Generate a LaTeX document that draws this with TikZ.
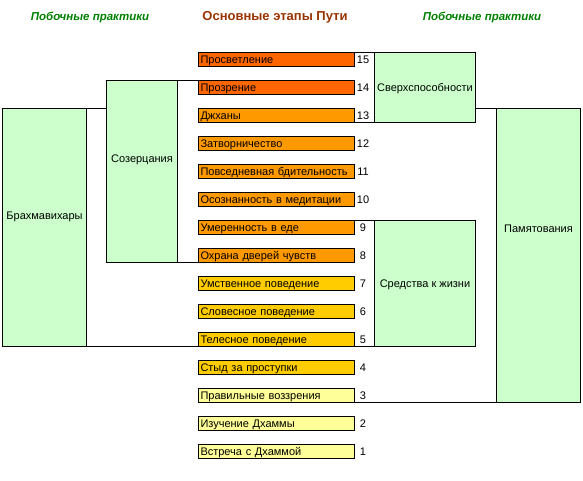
\documentclass[tikz,border=0pt]{standalone}
\usepackage{fontspec}
\setmainfont{Liberation Sans}
\usetikzlibrary{positioning}

\definecolor{redstage}{HTML}{FF6600}
\definecolor{orangestage}{HTML}{FF9900}
\definecolor{goldstage}{HTML}{FFCC00}
\definecolor{palestage}{HTML}{FFFF99}
\definecolor{sidegreen}{HTML}{CCFFCC}
\definecolor{titlebrown}{HTML}{993300}
\definecolor{titlegreen}{HTML}{008000}

\begin{document}
\begin{tikzpicture}[x=1pt,y=-1pt]
   \tikzstyle{every node}=[font=\fontsize{11}{13}\selectfont, text height=8.2pt, text depth=1pt, outer sep=0pt]
   \tikzstyle{stage}=[draw, line width=1pt, anchor=west, minimum height=14pt, text width=152pt, inner xsep=2pt, inner ysep=0pt, align=left]
   \tikzstyle{num}=[inner sep=0pt]
   \tikzstyle{practice}=[draw, line width=1pt, fill=sidegreen, anchor=north west, inner sep=0pt]
   \tikzstyle{link}=[line width=1pt]
   \tikzstyle{side title}=[font=\fontsize{11.5}{13}\selectfont\bfseries\itshape, text=titlegreen]

\useasboundingbox (0,0) rectangle (583,480);

% titles
\node[side title] (lefttitle) at (90,17) {Побочные практики};
\node[font=\fontsize{13}{15}\selectfont\bfseries, text=titlebrown] (maintitle) at (275,17) {Основные этапы Пути};
\node[side title] (righttitle) at (482,17) {Побочные практики};

% stages of the path
\foreach \n/\txt/\col in {15/Просветление/redstage, 14/Прозрение/redstage,
    13/Джханы/orangestage, 12/Затворничество/orangestage,
    11/Повседневная бдительность/orangestage, 10/Осознанность в медитации/orangestage,
    9/Умеренность в еде/orangestage, 8/Охрана дверей чувств/orangestage,
    7/Умственное поведение/goldstage, 6/Словесное поведение/goldstage,
    5/Телесное поведение/goldstage, 4/Стыд за проступки/goldstage,
    3/Правильные воззрения/palestage, 2/Изучение Дхаммы/palestage,
    1/Встреча с Дхаммой/palestage}
{
   \node[stage, fill=\col] (s\n) at (198.5,{59.5+(15-\n)*28}) {\txt};
   \node[num] (n\n) at (363,{59.5+(15-\n)*28}) {\n};
}

% side practices
\node[practice, minimum width=84pt, minimum height=238pt,
      label={[yshift=11.5pt]center:Брахмавихары}] (brahma) at (2.5,108.5) {};
\node[practice, minimum width=71pt, minimum height=182pt,
      label={[yshift=13pt]center:Созерцания}] (soz) at (106.5,80.5) {};
\node[practice, minimum width=101pt, minimum height=70pt] (sverh) at (374.5,52.5) {Сверхспособности};
\node[practice, minimum width=101pt, minimum height=126pt] (sredstva) at (374.5,220.5) {Средства к жизни};
\node[practice, minimum width=84pt, minimum height=294pt,
      label={[yshift=27pt]center:Памятования}] (pamyat) at (496.5,108.5) {};

% links
\draw[link] (brahma.north east) -- (brahma.north east -| soz.west);
\draw[link] (brahma.south east) -- (s5.south west);
\draw[link] (soz.north east) -- (s14.north west);
\draw[link] (soz.south east) -- (s8.south west);
\draw[link] (s15.north east) -- (sverh.north west);
\draw[link] (s13.south east) -- (sverh.south west);
\draw[link] (sverh.east |- pamyat.north) -- (pamyat.north west);
\draw[link] (s9.north east) -- (sredstva.north west);
\draw[link] (s5.south east) -- (sredstva.south west);
\draw[link] (s3.south east) -- (pamyat.south west);

\end{tikzpicture}
\end{document}
